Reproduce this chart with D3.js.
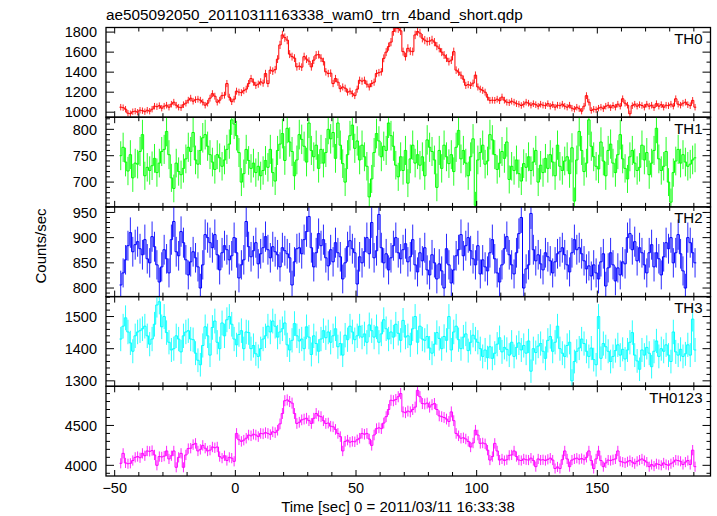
<!DOCTYPE html>
<html><head><meta charset="utf-8">
<script src="https://cdn.jsdelivr.net/npm/d3@7"></script>
<style>
body{margin:0;background:#fff}
svg{display:block}
text{font-family:"Liberation Sans",Arial,Helvetica,sans-serif;fill:#000}
</style>
</head><body><svg id="c" width="717" height="516"></svg>
<script>
const title = "ae505092050_20110311163338_wam0_trn_4band_short.qdp";
const xLabel = "Time [sec] 0 = 2011/03/11 16:33:38";
const yLabel = "Counts/sec";
const bandNames = ["TH0", "TH1", "TH2", "TH3", "TH0123"];
const binStart = -47.5, binSize = 1;

const th0 = [
1050,1045,1030,990,
985,1005,1010,1000,1020,1015,1005,
1020,1010,1030,1060,1055,1065,1040,1060,
1070,1050,1080,1100,1070,1050,1045,
1075,1090,1120,1140,1110,1125,1130,
1120,1100,1070,1090,1140,1185,1160,
1100,1120,1165,1170,1286,1150,1105,1130,
1210,1200,1195,1215,1230,1286,1336,
1300,1268,1280,1303,1290,1386,1286,
1420,1410,1425,1530,1672,1772,1745,
1720,1580,1555,1540,1453,1460,1450,
1555,1530,1510,1453,1520,1571,1575,
1540,1505,1403,1386,1390,1286,1336,
1300,1235,1252,1240,1200,1210,1185,
1165,1230,1319,1310,1319,1280,1252,
1286,1300,1386,1395,1403,1538,1600,
1655,1700,1806,1840,1835,1813,1605,
1555,1638,1610,1605,1772,1806,1790,
1739,1720,1705,1710,1722,1700,1660,
1638,1600,1571,1540,1505,1520,1605,
1420,1400,1370,1330,1268,1275,1268,
1290,1370,1252,1230,1218,1200,1150,
1118,1120,1118,1130,1115,1151,1120,
1100,1095,1110,1100,1085,1080,1067,
1080,1100,1090,1070,1085,1075,1060,
1080,1070,1065,1085,1060,1075,1050,
1070,1065,1080,1060,1050,1070,1040,
1030,1050,1035,1010,1060,1165,1100,
1017,1030,1025,1040,1050,1035,1060,
1070,1045,1067,1050,1080,1060,1134,
1090,1070,984,1065,1080,1060,1075,
1067,1050,1080,1060,1070,1045,1085,
1060,1075,1050,1070,1065,1080,1060,
1134,1080,1070,1090,1100,1075,1065,
1118,1050
];

const th1 = [
750,766,738,721,752,708,736,734,758,790,712,728,722,731,745,718,736,758,762,796,
752,708,688,736,720,714,726,744,766,758,794,742,734,760,784,790,768,752,738,724,
752,746,730,742,762,772,818,810,788,756,700,716,762,741,726,736,718,730,712,722,
741,728,762,718,702,760,772,792,741,802,776,758,712,742,790,781,768,738,812,760,
748,770,726,762,736,756,800,782,794,745,812,770,735,700,752,788,808,764,778,742,
770,748,730,672,706,756,792,778,748,768,760,812,788,768,732,710,748,722,760,698,
744,770,736,752,732,748,712,780,766,758,742,690,760,726,770,748,735,752,720,766,
798,744,760,736,712,748,782,656,742,756,770,734,740,790,780,752,724,736,758,745,
776,705,730,722,742,716,702,735,728,748,722,738,760,700,732,718,745,726,752,738,
712,770,730,722,740,748,716,765,664,742,796,760,720,736,818,768,748,730,725,776,
740,712,760,772,736,718,752,790,744,726,706,748,760,736,722,728,770,742,756,714,
736,760,802,744,722,730,758,700,662,718,740,762,736,752,738,730,734,742,746
];

const th2 = [
806,830,856,884,910,872,886,892,878,866,896,858,850,902,882,846,812,842,876,858,
830,896,932,872,864,912,890,856,826,852,872,860,842,800,846,906,900,890,880,906,
866,836,870,884,876,856,864,900,870,820,846,856,932,882,862,874,890,848,868,880,
902,876,860,882,872,866,842,880,874,868,860,806,852,878,880,868,896,912,942,880,
842,870,908,884,896,860,844,876,852,890,870,862,818,850,882,894,878,870,808,862,
850,872,900,868,930,860,874,946,880,850,868,836,860,884,900,870,858,876,888,852,
862,896,846,832,870,854,880,836,826,866,850,818,848,834,800,878,846,810,836,864,
876,906,864,884,900,874,858,846,884,828,856,842,834,870,896,858,830,812,846,878,
902,866,846,828,870,908,940,800,838,846,948,876,854,866,848,836,870,862,854,830,
852,868,872,880,866,846,832,870,896,876,880,868,854,838,844,824,846,830,818,852,
868,804,840,870,846,814,840,826,852,848,900,908,876,892,854,880,870,846,830,870,
886,842,870,858,826,862,890,878,900,850,870,906,868,834,800,900,890,870,850
];

const th3 = [
1430,1470,1496,1452,1418,1392,1440,1452,1456,1462,1470,1440,1414,1430,1476,1536,1546,1468,1500,1450,
1420,1396,1400,1440,1430,1390,1440,1452,1456,1430,1428,1386,1364,1350,1410,1468,1440,1380,1466,1486,
1420,1400,1480,1440,1490,1500,1476,1430,1412,1444,1456,1400,1452,1450,1400,1410,1384,1376,1400,1430,
1440,1470,1452,1486,1470,1436,1452,1462,1480,1412,1396,1426,1478,1440,1424,1430,1400,1468,1436,1382,
1440,1416,1392,1430,1456,1434,1452,1420,1440,1462,1406,1416,1380,1442,1428,1470,1452,1428,1440,1470,
1436,1446,1420,1474,1456,1436,1468,1420,1446,1490,1462,1430,1452,1436,1476,1448,1426,1488,1436,1440,
1412,1462,1500,1420,1470,1430,1426,1438,1402,1386,1414,1450,1432,1400,1438,1426,1500,1396,1452,1470,
1428,1400,1436,1446,1394,1420,1442,1430,1420,1400,1376,1396,1372,1406,1370,1386,1414,1434,1390,1404,
1398,1380,1420,1376,1404,1418,1396,1410,1386,1424,1330,1400,1388,1408,1416,1392,1370,1426,1438,1392,
1420,1470,1400,1386,1376,1410,1420,1300,1360,1392,1402,1430,1416,1392,1376,1402,1366,1350,1500,1370,
1416,1406,1392,1360,1376,1394,1412,1380,1398,1368,1396,1420,1450,1380,1362,1336,1396,1380,1404,1386,
1344,1392,1424,1376,1400,1392,1412,1380,1360,1452,1390,1380,1398,1376,1384,1412,1380,1492,1396
];

const th0123 = [
4025,4150,4030,4020,4025,4060,4100,4110,4095,4150,4120,4180,4175,4185,4130,4000,4110,4105,4115,4180,
4080,4120,4180,3975,4100,4150,3975,4130,4210,4215,4260,4275,4180,4200,4250,4215,4180,4190,4230,4220,
4230,4110,4090,4120,4060,4100,4090,4050,4400,4320,4300,4316,4340,4380,4370,4390,4380,4360,4400,4395,
4410,4400,4385,4420,4410,4440,4520,4650,4810,4820,4800,4780,4650,4525,4540,4570,4580,4590,4560,4525,
4590,4650,4620,4610,4560,4525,4530,4490,4483,4450,4400,4360,4180,4300,4316,4290,4300,4295,4320,4340,
4400,4390,4400,4330,4250,4380,4460,4470,4460,4530,4610,4700,4816,4810,4825,4860,4900,4670,4660,4680,
4670,4700,4730,4940,4860,4775,4770,4780,4730,4760,4775,4700,4620,4610,4600,4580,4550,4670,4560,4400,
4370,4340,4345,4330,4300,4230,4280,4440,4380,4275,4280,4270,4190,4066,4110,4275,4180,4066,4080,4060,
4070,4125,4130,4180,4110,4066,4060,4080,4070,4066,4090,4060,3983,4080,4066,4070,4060,4075,4090,4066,
3960,3980,3960,4070,4180,4080,3983,4066,4080,4090,4075,4085,4070,4100,4180,4060,3960,4080,4180,4060,
3983,4030,4066,4060,4070,4080,4180,4050,4040,4030,4045,4060,4040,4020,4050,4066,4080,4060,4040,3983,
4010,3990,4020,4010,4000,4030,4010,4000,4020,4040,4066,4060,4050,4010,4040,4060,4010,4190,3983
];

const seriesList = [th0, th1, th2, th3, th0123];
const seriesColors = ["#ff0000", "#00ff00", "#0000ff", "#00ffff", "#ff00ff"];
const yDomains = [[950, 1846], [653, 823], [783, 961], [1283, 1562], [3866, 4991]];
const yMajorTicks = [[1000, 1200, 1400, 1600, 1800], [700, 750, 800], [800, 850, 900, 950], [1300, 1400, 1500], [4000, 4500]];
const yMinorStep = [100, 10, 10, 20, 100];
const xDomain = [-53.6, 196.9];
const xMajorTicks = [-50, 0, 50, 100, 150];
const xMinorStep = 10;

const svg = d3.select("#c");
const L = 106, R = 710.5, T = 27.5, B = 476;
const nP = seriesList.length;
const ph = (B - T) / nP;
const x = d3.scaleLinear().domain(xDomain).range([L, R]);
const xMinor = d3.range(Math.ceil(xDomain[0] / xMinorStep) * xMinorStep, xDomain[1], xMinorStep);

svg.append("text").attr("x", L).attr("y", 20).attr("font-size", 15.3).text(title);

seriesList.forEach((vals, p) => {
  const top = T + p * ph, bot = top + ph;
  const y = d3.scaleLinear().domain(yDomains[p]).range([bot, top]);
  const g = svg.append("g");
  const cid = "clip" + p;
  svg.append("clipPath").attr("id", cid).append("rect")
    .attr("x", L).attr("y", top).attr("width", R - L).attr("height", ph);
  const data = vals.map((v, i) => ({t: binStart + i * binSize, v, e: Math.sqrt(v * binSize) / binSize}));
  const dg = g.append("g").attr("clip-path", `url(#${cid})`)
    .attr("stroke", seriesColors[p]).attr("stroke-width", 1).attr("fill", "none");
  // step line through bins (edges at bin boundaries)
  const stepPts = [];
  data.forEach(d => { stepPts.push([d.t - binSize / 2, d.v]); stepPts.push([d.t + binSize / 2, d.v]); });
  dg.append("path").datum(stepPts)
    .attr("d", d3.line().x(d => x(d[0])).y(d => y(d[1])));
  dg.selectAll("line.v").data(data).join("line").attr("class", "v")
    .attr("x1", d => x(d.t)).attr("x2", d => x(d.t))
    .attr("y1", d => y(d.v - d.e)).attr("y2", d => y(d.v + d.e))
    .attr("stroke-opacity", 0.85);

  const ag = g.append("g").attr("stroke", "#000").attr("stroke-width", 1);
  const yMin = d3.range(Math.ceil(yDomains[p][0] / yMinorStep[p]) * yMinorStep[p], yDomains[p][1], yMinorStep[p]);
  yMin.forEach(v => {
    const major = yMajorTicks[p].includes(v);
    const len = major ? 8 : 4;
    ag.append("line").attr("x1", L).attr("x2", L + len).attr("y1", y(v)).attr("y2", y(v));
    ag.append("line").attr("x1", R).attr("x2", R - len).attr("y1", y(v)).attr("y2", y(v));
  });
  xMinor.forEach(t => {
    const major = xMajorTicks.includes(t);
    const len = major ? 6 : 4;
    ag.append("line").attr("x1", x(t)).attr("x2", x(t)).attr("y1", bot).attr("y2", bot - len);
    ag.append("line").attr("x1", x(t)).attr("x2", x(t)).attr("y1", top).attr("y2", top + len);
  });
  ag.append("rect").attr("x", L).attr("y", top).attr("width", R - L).attr("height", ph)
    .attr("fill", "none").attr("stroke-width", 1.3);

  yMajorTicks[p].forEach(v => {
    svg.append("text").attr("x", L - 9).attr("y", y(v)).attr("dy", "0.36em")
      .attr("text-anchor", "end").attr("font-size", 14.5).text(v);
  });
  svg.append("text").attr("x", R - 8).attr("y", top + 16.5).attr("text-anchor", "end")
    .attr("font-size", 15).text(bandNames[p]);
});

xMajorTicks.forEach(t => {
  svg.append("text").attr("x", x(t)).attr("y", B + 17).attr("text-anchor", "middle")
    .attr("font-size", 14.5).text(t < 0 ? "\u2212" + Math.abs(t) : t);
});
svg.append("text").attr("x", 398).attr("y", 512).attr("text-anchor", "middle")
  .attr("font-size", 15).text(xLabel);
svg.append("text").attr("transform", "translate(46,246) rotate(-90)").attr("text-anchor", "middle")
  .attr("font-size", 15).text(yLabel);
</script>
</body></html>
